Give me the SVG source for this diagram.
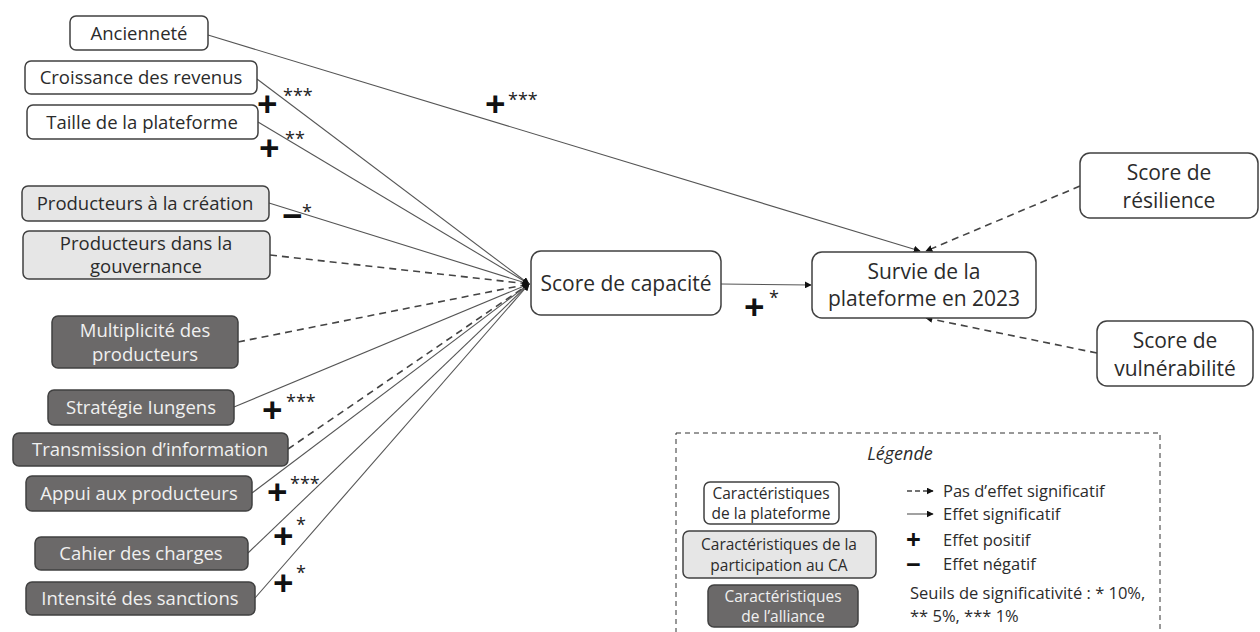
<svg xmlns="http://www.w3.org/2000/svg" width="1260" height="632" viewBox="0 0 1260 632">
<defs>
<marker id="ah" viewBox="0 0 10 10" refX="9" refY="5" markerWidth="7" markerHeight="7" orient="auto" markerUnits="userSpaceOnUse"><path d="M0,0 L10,5 L0,10 z" fill="#111"/></marker>
<style>
text{font-family:"Open Sans","Liberation Sans",sans-serif;fill:#2b2b2b}
.n rect{stroke:#404040;stroke-width:1.5}
.w rect{fill:#fff}
.g rect{fill:#e6e6e6}
.d rect{fill:#6b6969}
.d text{fill:#f0f0f0}
.t{font-size:18.5px;text-anchor:middle}
.big{font-size:21px;text-anchor:middle}
.c line{stroke:#555;stroke-width:1.1;fill:none}
.c line.dash{stroke:#444;stroke-width:1.6;stroke-dasharray:7 5}
.plus{font-size:36px;font-weight:bold;fill:#111}
.st{font-size:18px;fill:#222}
.lg{font-size:16.5px}
.lgc{font-size:15.5px;text-anchor:middle}
</style>
</defs>
<rect width="1260" height="632" fill="#fff"/>

<g id="connectors" class="c">
<line x1="208" y1="35" x2="920" y2="251" marker-end="url(#ah)"/>
<line x1="257" y1="79" x2="529" y2="284" marker-end="url(#ah)"/>
<line x1="258" y1="122" x2="529" y2="284" marker-end="url(#ah)"/>
<line x1="269" y1="203" x2="529" y2="284" marker-end="url(#ah)"/>
<line class="dash" x1="270" y1="255" x2="529" y2="284" marker-end="url(#ah)"/>
<line class="dash" x1="238" y1="342" x2="529" y2="284" marker-end="url(#ah)"/>
<line x1="234" y1="407" x2="529" y2="284" marker-end="url(#ah)"/>
<line class="dash" x1="288" y1="449" x2="529" y2="284" marker-end="url(#ah)"/>
<line x1="252" y1="493" x2="529" y2="284" marker-end="url(#ah)"/>
<line x1="248" y1="553" x2="529" y2="284" marker-end="url(#ah)"/>
<line x1="255" y1="598" x2="529" y2="284" marker-end="url(#ah)"/>
<line x1="721" y1="284" x2="811" y2="285" marker-end="url(#ah)"/>
<line class="dash" x1="1080" y1="186" x2="926" y2="251" marker-end="url(#ah)"/>
<line class="dash" x1="1097" y1="353" x2="926" y2="318" marker-end="url(#ah)"/>
</g>

<g id="labels">
<text class="plus" x="485" y="117">+</text><text class="st" x="508" y="106">***</text>
<text class="plus" x="257" y="117">+</text><text class="st" x="283" y="102">***</text>
<text class="plus" x="259" y="161">+</text><text class="st" x="285" y="145">**</text>
<text class="plus" x="282" y="229">−</text><text class="st" x="302" y="218">*</text>
<text class="plus" x="262" y="423">+</text><text class="st" x="286" y="408">***</text>
<text class="plus" x="267" y="505">+</text><text class="st" x="290" y="490">***</text>
<text class="plus" x="273" y="549">+</text><text class="st" x="296" y="531">*</text>
<text class="plus" x="273" y="596">+</text><text class="st" x="296" y="579">*</text>
<text class="plus" x="744" y="320">+</text><text class="st" x="769" y="304">*</text>
</g>

<g id="n-anciennete" class="n w"><rect x="70" y="16" width="138" height="34" rx="6"/><text class="t" x="139" y="40">Ancienneté</text></g>
<g id="n-croissance" class="n w"><rect x="25" y="61" width="232" height="33" rx="6"/><text class="t" x="141" y="84">Croissance des revenus</text></g>
<g id="n-taille" class="n w"><rect x="27" y="105" width="231" height="34" rx="6"/><text class="t" x="142" y="129">Taille de la plateforme</text></g>
<g id="n-prod-creation" class="n g"><rect x="22" y="186" width="247" height="35" rx="6"/><text class="t" x="145" y="210">Producteurs à la création</text></g>
<g id="n-prod-gouv" class="n g"><rect x="23" y="231" width="247" height="48" rx="6"/><text class="t" x="146" y="250">Producteurs dans la</text><text class="t" x="146" y="273">gouvernance</text></g>
<g id="n-multiplicite" class="n d"><rect x="52" y="316" width="186" height="52" rx="6"/><text class="t" x="145" y="337">Multiplicité des</text><text class="t" x="145" y="361">producteurs</text></g>
<g id="n-strategie" class="n d"><rect x="48" y="390" width="186" height="35" rx="6"/><text class="t" x="141" y="414">Stratégie Iungens</text></g>
<g id="n-transmission" class="n d"><rect x="13" y="433" width="275" height="33" rx="6"/><text class="t" x="150" y="456">Transmission d’information</text></g>
<g id="n-appui" class="n d"><rect x="26" y="476" width="226" height="35" rx="6"/><text class="t" x="139" y="500">Appui aux producteurs</text></g>
<g id="n-cahier" class="n d"><rect x="35" y="537" width="213" height="33" rx="6"/><text class="t" x="141" y="560">Cahier des charges</text></g>
<g id="n-sanctions" class="n d"><rect x="26" y="582" width="229" height="33" rx="6"/><text class="t" x="140" y="605">Intensité des sanctions</text></g>

<g id="n-capacite" class="n w"><rect x="531" y="251" width="190" height="64" rx="10"/><text class="big" x="626" y="291">Score de capacité</text></g>
<g id="n-survie" class="n w"><rect x="812" y="252" width="224" height="66" rx="10"/><text class="big" x="924" y="279">Survie de la</text><text class="big" x="924" y="306">plateforme en 2023</text></g>
<g id="n-resilience" class="n w"><rect x="1080" y="153" width="178" height="65" rx="10"/><text class="big" x="1169" y="180">Score de</text><text class="big" x="1169" y="208">résilience</text></g>
<g id="n-vulnerabilite" class="n w"><rect x="1097" y="321" width="156" height="65" rx="10"/><text class="big" x="1175" y="348">Score de</text><text class="big" x="1175" y="376">vulnérabilité</text></g>

<g id="legend">
<rect x="676" y="433" width="484" height="210" fill="none" stroke="#333" stroke-width="1" stroke-dasharray="5 4"/>
<text x="900" y="460" style="font-size:18px;font-style:italic;text-anchor:middle">Légende</text>
<g class="n w"><rect x="704" y="482" width="135" height="42" rx="6"/><text class="lgc" x="771" y="499">Caractéristiques</text><text class="lgc" x="771" y="519">de la plateforme</text></g>
<g class="n g"><rect x="683" y="531" width="193" height="47" rx="6"/><text class="lgc" x="779" y="550">Caractéristiques de la</text><text class="lgc" x="779" y="571">participation au CA</text></g>
<g class="n d"><rect x="708" y="585" width="150" height="42" rx="6"/><text class="lgc" x="783" y="602">Caractéristiques</text><text class="lgc" x="783" y="622">de l’alliance</text></g>
<g class="c"><line class="dash" x1="907" y1="491" x2="933" y2="491" marker-end="url(#ah)" style="stroke-dasharray:5 3;stroke-width:1.4"/><line x1="907" y1="514" x2="933" y2="514" marker-end="url(#ah)"/></g>
<text class="lg" x="943" y="497">Pas d’effet significatif</text>
<text class="lg" x="943" y="520">Effet significatif</text>
<text class="plus" x="906" y="549" style="font-size:26px">+</text><text class="lg" x="943" y="546">Effet positif</text>
<text class="plus" x="906" y="574" style="font-size:26px">−</text><text class="lg" x="943" y="570">Effet négatif</text>
<text class="lg" x="910" y="599">Seuils de significativité : * 10%,</text>
<text class="lg" x="910" y="622">** 5%, *** 1%</text>
</g>
</svg>
